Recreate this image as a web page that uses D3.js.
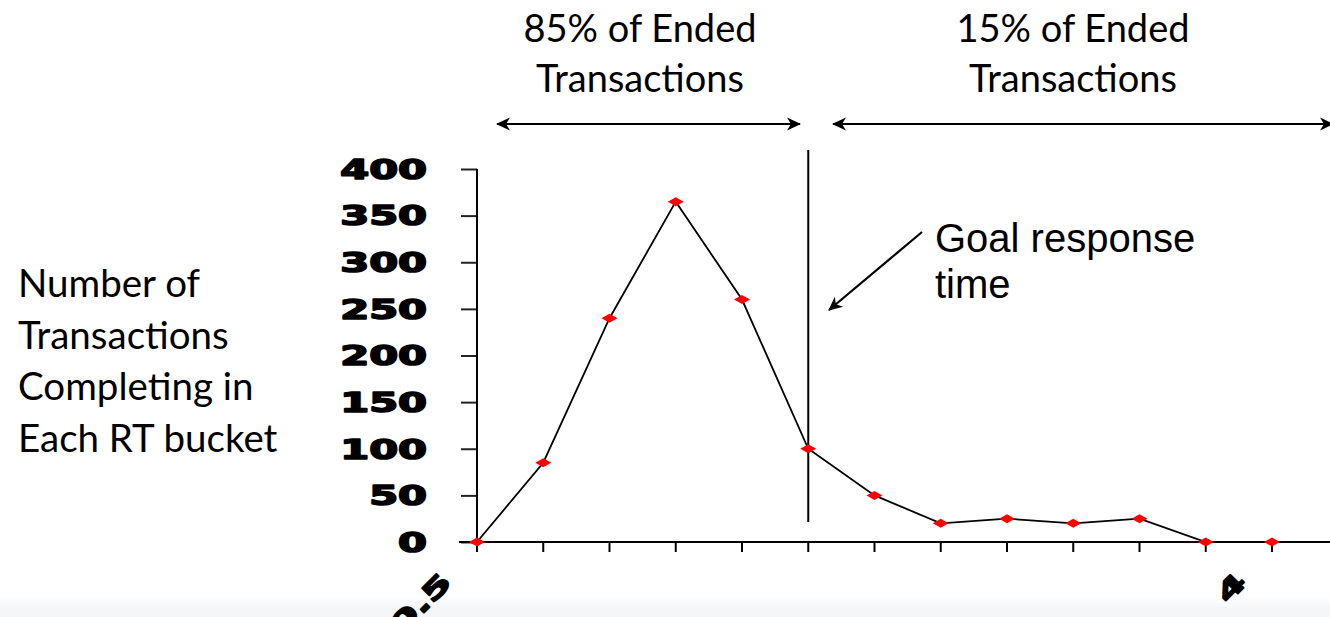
<!DOCTYPE html>
<html>
<head>
<meta charset="utf-8">
<script src="https://cdn.jsdelivr.net/npm/d3@7"></script>
<style>
  html, body { margin: 0; padding: 0; background: #ffffff; }
  svg { display: block; }
</style>
</head>
<body>
<script>
// Response-time buckets and the number of transactions completing in each
const buckets = d3.range(13);
const counts = [0, 85, 240, 365, 260, 100, 50, 20, 25, 20, 25, 0, 0];
const yTicks = [0, 50, 100, 150, 200, 250, 300, 350, 400];
const xTickLabels = ["0.5", "", "", "", "", "", "", "", "", "", "", "4", ""];
const goalBucket = 5;
const leftBandText = ["85% of Ended", "Transactions"];
const rightBandText = ["15% of Ended", "Transactions"];
const yTitleLines = ["Number of", "Transactions", "Completing in", "Each RT bucket"];
const goalText = ["Goal response", "time"];

const W = 1330, H = 617;
const svg = d3.select("body").append("svg").attr("width", W).attr("height", H);

// faint grey strip along the bottom edge
const grad = svg.append("defs").append("linearGradient")
  .attr("id", "foot").attr("x1", 0).attr("y1", 0).attr("x2", 0).attr("y2", 1);
grad.append("stop").attr("offset", 0).attr("stop-color", "#ffffff");
grad.append("stop").attr("offset", 1).attr("stop-color", "#f4f6f8");
svg.append("rect").attr("x", 0).attr("y", 596).attr("width", W).attr("height", 12).attr("fill", "url(#foot)");
svg.append("rect").attr("x", 0).attr("y", 608).attr("width", W).attr("height", H - 608).attr("fill", "#f4f6f8");

const x = d3.scalePoint().domain(buckets).range([477, 1272]);
const y = d3.scaleLinear().domain([0, 400]).range([542, 169]);

const tickFont = "'DejaVu Sans', sans-serif";
const stretch = 1.6;

function heavy(sel) {
  sel.style("font-family", tickFont).style("font-weight", 700).style("font-size", "26px")
    .attr("fill", "#000").attr("stroke", "#000").attr("stroke-width", 1.6)
    .attr("stroke-linejoin", "round");
}

// y axis
const yAxis = svg.append("g").attr("transform", `translate(${x(0)},0)`)
  .call(d3.axisLeft(y).tickValues(yTicks).tickSize(16).tickPadding(0).tickFormat(d3.format("d")));
yAxis.select(".domain").remove();
yAxis.selectAll(".tick line").attr("stroke", "#222").attr("stroke-width", 2);
yAxis.selectAll(".tick text")
  .attr("x", 0).attr("dy", "0.36em")
  .attr("transform", `translate(-50,0) scale(${stretch},1)`)
  .call(heavy);
svg.append("line").attr("x1", x(0)).attr("x2", x(0)).attr("y1", y(400)).attr("y2", 552)
  .attr("stroke", "#000").attr("stroke-width", 2);

// x axis
svg.append("line").attr("x1", 459).attr("x2", W).attr("y1", y(0)).attr("y2", y(0))
  .attr("stroke", "#000").attr("stroke-width", 2);
svg.append("g").selectAll("line").data(buckets.slice(1)).join("line")
  .attr("x1", d => x(d)).attr("x2", d => x(d)).attr("y1", y(0)).attr("y2", 552)
  .attr("stroke", "#000").attr("stroke-width", 2);

// rotated bucket labels
const labelShift = { "0.5": -37, "4": 29 };
svg.append("g").selectAll("text").data(buckets.filter(d => xTickLabels[d] !== "")).join("text")
  .attr("transform", d => `translate(${x(d) + labelShift[xTickLabels[d]]},${571}) rotate(-45) scale(${stretch},1)`)
  .attr("text-anchor", "end")
  .attr("dy", "0.7em")
  .call(heavy)
  .text(d => xTickLabels[d]);

// goal response time marker
svg.append("line").attr("x1", x(goalBucket)).attr("x2", x(goalBucket)).attr("y1", 150).attr("y2", 522)
  .attr("stroke", "#000").attr("stroke-width", 2);

// series line
svg.append("path").datum(buckets)
  .attr("d", d3.line().x(d => x(d)).y(d => y(counts[d])))
  .attr("fill", "none").attr("stroke", "#000").attr("stroke-width", 1.8);

// diamond markers
svg.append("g").selectAll("path").data(buckets).join("path")
  .attr("transform", d => `translate(${x(d)},${y(counts[d])})`)
  .attr("d", "M-8,0L0,-4.5L8,0L0,4.5Z")
  .attr("fill", "#ff0000");

// arrow heads
const defs = svg.append("defs");
defs.append("marker").attr("id", "head")
  .attr("viewBox", "-14 -8 16 16").attr("refX", 0).attr("refY", 0)
  .attr("markerWidth", 16).attr("markerHeight", 16).attr("markerUnits", "userSpaceOnUse")
  .attr("orient", "auto-start-reverse")
  .append("path").attr("d", "M1,0L-13,-6.5L-9,0L-13,6.5Z").attr("fill", "#000");

function arrow(x1, y1, x2, y2, both) {
  const l = svg.append("line").attr("x1", x1).attr("y1", y1).attr("x2", x2).attr("y2", y2)
    .attr("stroke", "#000").attr("stroke-width", 2.2)
    .attr("marker-end", "url(#head)");
  if (both) l.attr("marker-start", "url(#head)");
}
arrow(497, 124, 800, 124, true);
arrow(833, 124, 1333, 124, true);
arrow(922, 232, 829, 310, false);

// annotation text
const bodyFont = "Lato, 'Open Sans', sans-serif";
function block(lines, cx, y0, step, anchor, family, size) {
  svg.append("g").selectAll("text").data(lines).join("text")
    .attr("x", cx).attr("y", (d, i) => y0 + i * step)
    .attr("text-anchor", anchor)
    .style("font-family", family).style("font-size", size + "px")
    .attr("fill", "#000")
    .text(d => d);
}
block(leftBandText, 640, 42, 50, "middle", bodyFont, 38);
block(rightBandText, 1073, 42, 50, "middle", bodyFont, 38);
block(yTitleLines, 18, 297, 51.5, "start", bodyFont, 38.5);
block(goalText, 935, 252, 46, "start", "'Liberation Sans', Arial, sans-serif", 40);
</script>
</body>
</html>
